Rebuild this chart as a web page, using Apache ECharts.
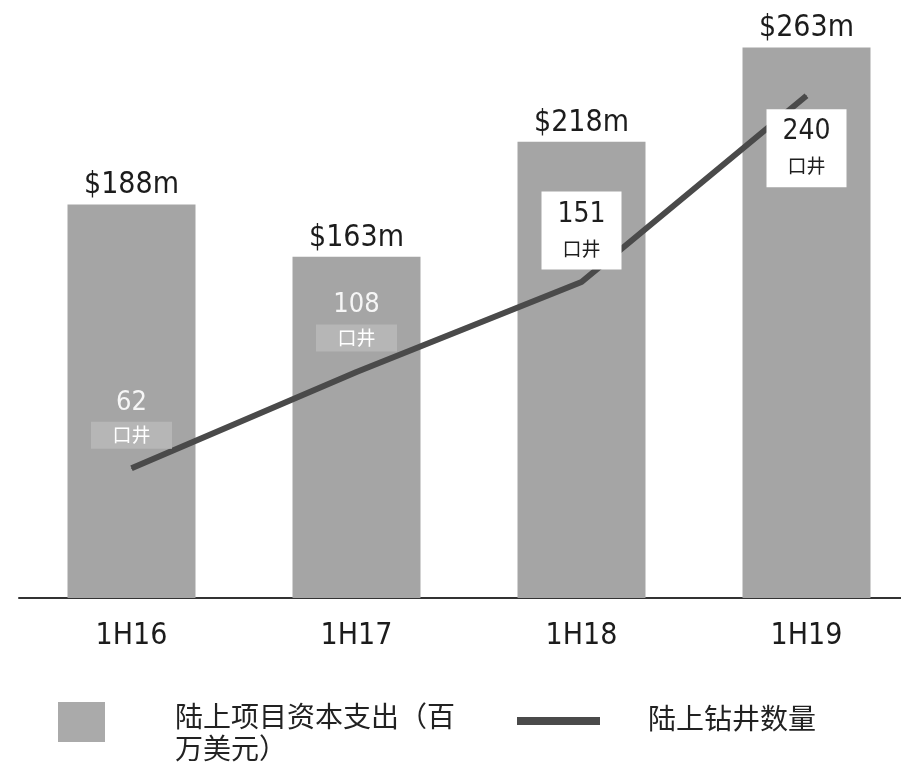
<!DOCTYPE html>
<html>
<head>
<meta charset="utf-8">
<script src="https://cdn.jsdelivr.net/npm/echarts@6/dist/echarts.min.js"></script>
<style>
  html, body { margin: 0; padding: 0; background: #ffffff; }
  #chart { width: 901px; height: 762px; }
</style>
</head>
<body>
<div id="chart"></div>
<script>
// Half-year periods
const periods = ['1H16', '1H17', '1H18', '1H19'];
// Onshore capital expenditure, US$ millions
const capex = [188, 163, 218, 263];
// Onshore wells drilled
const wells = [62, 108, 151, 240];

const capexName = '陆上项目资本支出（百\n万美元）';
const wellsName = '陆上钻井数量';

const barColor = '#a5a5a5';
const lineColor = '#4a4a4a';
const latin = '"DejaVu Sans Condensed", "DejaVu Sans", sans-serif';
const cjk = '"Noto Sans CJK SC", sans-serif';

// Wrap each line of a legend name in the rich style "a"
const richLines = name => name.split('\n').map(s => '{a|' + s + '}').join('\n');
const legendRich = { a: { fontFamily: cjk, fontSize: 28, color: '#222222', lineHeight: 32 } };

// Well-count labels: the first two sit on the bar, the last two in white boxes
function wellLabel(i) {
  if (i < 2) {
    return {
      show: true,
      position: 'top',
      distance: i === 0 ? 19 : 20,
      formatter: p => '{n|' + p.value + '}\n{u|口井}',
      rich: {
        n: { fontFamily: latin, fontSize: 27, color: '#f6f6f6', lineHeight: 38, align: 'center' },
        u: { fontFamily: cjk, fontSize: 19, color: '#ffffff', backgroundColor: '#b6b6b6',
             width: 81, height: 27, lineHeight: 27, align: 'center' }
      }
    };
  }
  return {
    show: true,
    position: i === 3 ? 'bottom' : 'top',
    distance: i === 3 ? 13 : 12,
    backgroundColor: '#ffffff',
    padding: [5, 0, 5, 0],
    formatter: p => '{n|' + p.value + '}\n{u|口井}',
    rich: {
      n: { fontFamily: latin, fontSize: 28, color: '#1e1e1e', lineHeight: 36, align: 'center', width: 80 },
      u: { fontFamily: cjk, fontSize: 19, color: '#1e1e1e', lineHeight: 32, align: 'center', width: 80 }
    }
  };
}

const chart = echarts.init(document.getElementById('chart'), null, { renderer: 'canvas' });
chart.setOption({
  animation: false,
  backgroundColor: '#ffffff',
  grid: { left: 19, top: 12, width: 900, bottom: 164, containLabel: false, outerBoundsMode: 'none' },
  xAxis: {
    type: 'category',
    data: periods,
    axisTick: { show: false },
    axisLine: { lineStyle: { color: '#333333', width: 2 } },
    axisLabel: { fontFamily: latin, fontSize: 30, color: '#1c1c1c', margin: 23 }
  },
  yAxis: [
    { type: 'value', min: 0, max: 280, show: false },
    { type: 'value', min: 0, max: 280, show: false }
  ],
  legend: [
    {
      left: 58, top: 702, padding: 0,
      itemWidth: 47, itemHeight: 40,
      icon: 'rect',
      data: [{ name: capexName, itemStyle: { color: '#aaaaaa' } }],
      formatter: richLines,
      textStyle: { padding: [20, 0, 0, 65], rich: legendRich },
      selectedMode: false
    },
    {
      left: 517, top: 704, padding: 0,
      itemWidth: 83, itemHeight: 8,
      icon: 'rect',
      data: [{ name: wellsName, itemStyle: { color: lineColor } }],
      formatter: richLines,
      textStyle: { padding: [0, 0, 6, 43], rich: legendRich },
      selectedMode: false
    }
  ],
  series: [
    {
      name: capexName,
      type: 'bar',
      data: capex,
      barWidth: 128,
      itemStyle: { color: barColor },
      label: {
        show: true,
        position: 'top',
        distance: 4,
        formatter: p => '$' + p.value + 'm',
        fontFamily: latin,
        fontSize: 30,
        color: '#1c1c1c'
      }
    },
    {
      name: wellsName,
      type: 'line',
      yAxisIndex: 1,
      data: wells.map((v, i) => ({ value: v, label: wellLabel(i) })),
      symbol: 'circle',
      symbolSize: 1,
      showSymbol: true,
      itemStyle: { color: lineColor },
      lineStyle: { color: lineColor, width: 6 },
      z: 3
    }
  ]
});
</script>
</body>
</html>
